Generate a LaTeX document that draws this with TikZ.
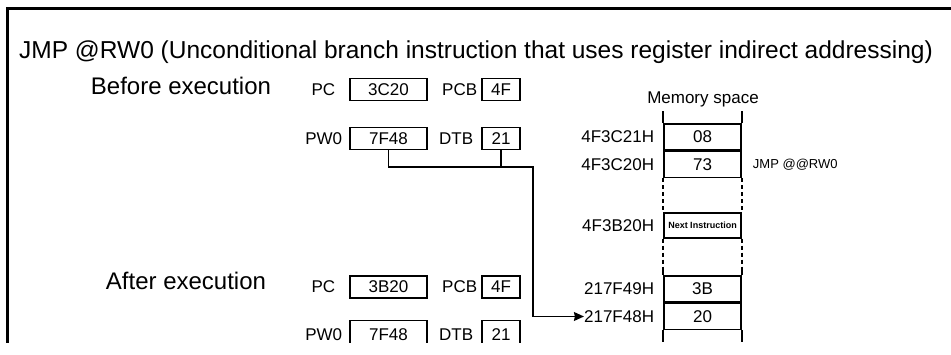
\documentclass[tikz,border=0pt]{standalone}
\usepackage{fontspec}
\setmainfont{Liberation Sans}
\usetikzlibrary{positioning, arrows.meta}

\begin{document}
\begin{tikzpicture}[
    x=1pt, y=-1pt,
    every node/.style={font=\fontsize{17}{20}\selectfont},
    heading/.style={font=\fontsize{24.5}{28}\selectfont, inner sep=0pt},
    regbox/.style={rectangle, draw, line width=1.3pt, minimum width=77pt, minimum height=22pt, inner sep=0pt},
    bankbox/.style={regbox, minimum width=38pt},
    reglabel/.style={inner sep=0pt},
    memcell/.style={rectangle, draw, line width=1.5pt, minimum width=77pt, minimum height=26pt, inner sep=0pt},
    wall/.style={line width=1.7pt},
    link/.style={line width=1.3pt}
]

% Page frame
\useasboundingbox (0,0) rectangle (951,355);
\clip (0,0) rectangle (951,343);
\draw[line width=3pt] (7,360) -- (7,9) -- (960,9);

% Headings
\node[heading, anchor=west] (title) at (19,52) {JMP @RW0 (Unconditional branch instruction that uses register indirect addressing)};
\node[heading, font=\fontsize{24}{28}\selectfont] (before) at (181,86) {Before execution};
\node[heading, font=\fontsize{24}{28}\selectfont] (after) at (186,281) {After execution};

% Registers before execution
\node[regbox] (pcold) at (388.5,89.5) {3C20};
\node[bankbox] (pcbold) at (501,89.5) {4F};
\node[regbox] (pwold) at (388.5,138.5) {7F48};
\node[bankbox] (dtbold) at (501,138.5) {21};
\node[reglabel, left=14pt of pcold] (pcoldlbl) {PC};
\node[reglabel, left=4pt of pcbold] (pcboldlbl) {PCB};
\node[reglabel, left=7pt of pwold] (pwoldlbl) {PW0};
\node[reglabel, left=8pt of dtbold] (dtboldlbl) {DTB};

% Registers after execution
\node[regbox] (pcnew) at (388.5,287) {3B20};
\node[bankbox] (pcbnew) at (501,287) {4F};
\node[regbox, minimum height=29pt] (pwnew) at (388.5,335) {7F48};
\node[bankbox, minimum height=29pt] (dtbnew) at (501,335) {21};
\node[reglabel, left=14pt of pcnew] (pcnewlbl) {PC};
\node[reglabel, left=4pt of pcbnew] (pcbnewlbl) {PCB};
\node[reglabel, left=7pt of pwnew] (pwnewlbl) {PW0};
\node[reglabel, left=8pt of dtbnew] (dtbnewlbl) {DTB};

% Memory space
\node (memtitle) at (703,99) {Memory space};
\node[memcell] (m21) at (702.5,137) {08};
\node[memcell, below=0pt of m21] (m20) {73};
\node[memcell, minimum height=25pt, font=\fontsize{9}{10}\bfseries] (mnext) at (702.5,225.5) {Next Instruction};
\node[memcell] (m49) at (702.5,289) {3B};
\node[memcell, below=0pt of m49] (m48) {20};

\node[reglabel, left=9pt of m21] (a21) {4F3C21H};
\node[reglabel, left=9pt of m20] (a20) {4F3C20H};
\node[reglabel, left=9pt of mnext] (anext) {4F3B20H};
\node[reglabel, left=9pt of m49] (a49) {217F49H};
\node[reglabel, left=9pt of m48] (a48) {217F48H};
\node[reglabel, right=11pt of m20, font=\fontsize{13}{15}\selectfont] (instr) {JMP @@RW0};

\foreach \s in {west,east} {
  \draw[wall] (m21.north \s) -- ++(0,-12);
  \draw[wall, dash pattern=on 4pt off 3pt] (m20.south \s) -- (mnext.north \s);
  \draw[wall, dash pattern=on 4pt off 3pt] (mnext.south \s) -- ++(0,30) coordinate (gap\s);
  \draw[wall] (gap\s) -- (m49.north \s);
  \draw[wall] (m48.south \s) -- ++(0,12);
}

% Connector from the registers to the jump target
\coordinate (turn) at (533,167);
\draw[link, -{Stealth[length=10pt, width=9pt, inset=1pt]}] (pwold.south) |- (turn) |- (a48.west);
\draw[link] (dtbold.south) -- (dtbold.south |- turn);

\end{tikzpicture}
\end{document}
